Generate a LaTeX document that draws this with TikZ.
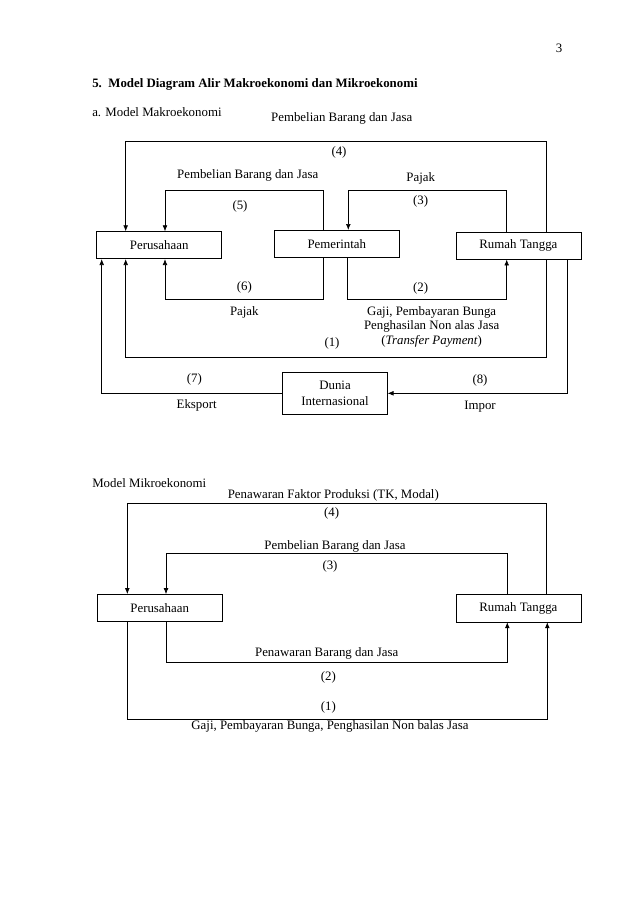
\documentclass[tikz,border=0pt]{standalone}
\usepackage{fontspec}
\setmainfont{Liberation Serif}
\usepackage{tikz}
\usetikzlibrary{calc,positioning,arrows.meta}

\begin{document}
\begin{tikzpicture}[x=0.9331pt, y=-0.9331pt,
  box/.style={draw, line width=0.6pt, minimum width=116.6pt, minimum height=25.4pt, inner sep=2pt},
  flow/.style={line width=0.6pt, -{Latex[length=5.5pt,width=4.4pt]}},
  every node/.style={font=\fontsize{12}{14}\selectfont}]
\useasboundingbox (0,0) rectangle (638,903);

% page header
\node (pg) at (559,48) {3};
\node[anchor=west, font=\fontsize{12}{14}\selectfont\bfseries] (title) at (88.5,84) {5.\ \ Model Diagram Alir Makroekonomi dan Mikroekonomi};

% a. makro
\node[anchor=west] (ma) at (88.5,112) {a. Model Makroekonomi};
\node[box] (P) at (159.2,245.2) {Perusahaan};
\node[box] (G) at (336.8,243.9) {Pemerintah};
\node[box] (RT) at (518.4,245.6) {Rumah Tangga};
\node[draw, line width=0.6pt, minimum width=97.6pt, minimum height=38.5pt, align=center, inner sep=1pt] (D) at (335,393.3) {Dunia\\Internasional};

\draw[flow] (RT.north -| 546,0) |- (125.7,141.7) -- (P.north -| 125.7,0);
\draw[flow] (G.north -| 323.3,0) |- (165,190.3) -- (P.north -| 165,0);
\draw[flow] (RT.north -| 506.7,0) |- (348.3,190.3) -- (G.north -| 348.3,0);
\draw[flow] (G.south -| 323.3,0) |- (165,299.3) -- (P.south -| 165,0);
\draw[flow] (G.south -| 347.3,0) |- (506.7,299.3) -- (RT.south -| 506.7,0);
\draw[flow] (RT.south -| 546,0) |- (125.7,357.3) -- (P.south -| 125.7,0);
\draw[flow] (RT.south -| 567.7,0) |- (D.east);
\draw[flow] (D.west) -| (P.south -| 101.7,0);

\node (t4) at (341.7,118) {Pembelian Barang dan Jasa};
\node (n4) at (339,152.7) {(4)};
\node (t5) at (247.7,175.7) {Pembelian Barang dan Jasa};
\node (n5) at (240,206) {(5)};
\node (t3) at (420.7,178.3) {Pajak};
\node (n3) at (420.7,201.7) {(3)};
\node (n6) at (244.3,287.7) {(6)};
\node (t6) at (244.3,312.3) {Pajak};
\node (n2) at (420.7,288.3) {(2)};
\node[align=center, font=\fontsize{12}{13}\selectfont] (t2) at (431.7,327) {Gaji, Pembayaran Bunga\\Penghasilan Non alas Jasa\\[1pt](\textit{Transfer Payment})};
\node (n1) at (332,343.5) {(1)};
\node (n7) at (194.3,379) {(7)};
\node (t7) at (196.7,405.7) {Eksport};
\node (n8) at (480,380) {(8)};
\node (t8) at (480,406.7) {Impor};

% mikro
\node[anchor=west] (mi) at (88.5,483.3) {Model Mikroekonomi};
\node[box] (P2) at (159.7,608) {Perusahaan};
\node[box] (RT2) at (518.4,608.3) {Rumah Tangga};

\draw[flow] (RT2.north -| 546.7,0) |- (127.3,503.3) -- (P2.north -| 127.3,0);
\draw[flow] (RT2.north -| 507.3,0) |- (166,553.3) -- (P2.north -| 166,0);
\draw[flow] (P2.south -| 166,0) |- (507.3,662.3) -- (RT2.south -| 507.3,0);
\draw[flow] (P2.south -| 127.3,0) |- (547.3,719.3) -- (RT2.south -| 547.3,0);

\node (m4) at (333.3,495) {Penawaran Faktor Produksi (TK, Modal)};
\node (k4) at (331.7,513.3) {(4)};
\node (m3) at (335,546) {Pembelian Barang dan Jasa};
\node (k3) at (330,566) {(3)};
\node (m2) at (326.7,653.3) {Penawaran Barang dan Jasa};
\node (k2) at (328.3,677.3) {(2)};
\node (k1) at (328.3,707.3) {(1)};
\node (m1) at (330,726.7) {Gaji, Pembayaran Bunga, Penghasilan Non balas Jasa};
\end{tikzpicture}
\end{document}
